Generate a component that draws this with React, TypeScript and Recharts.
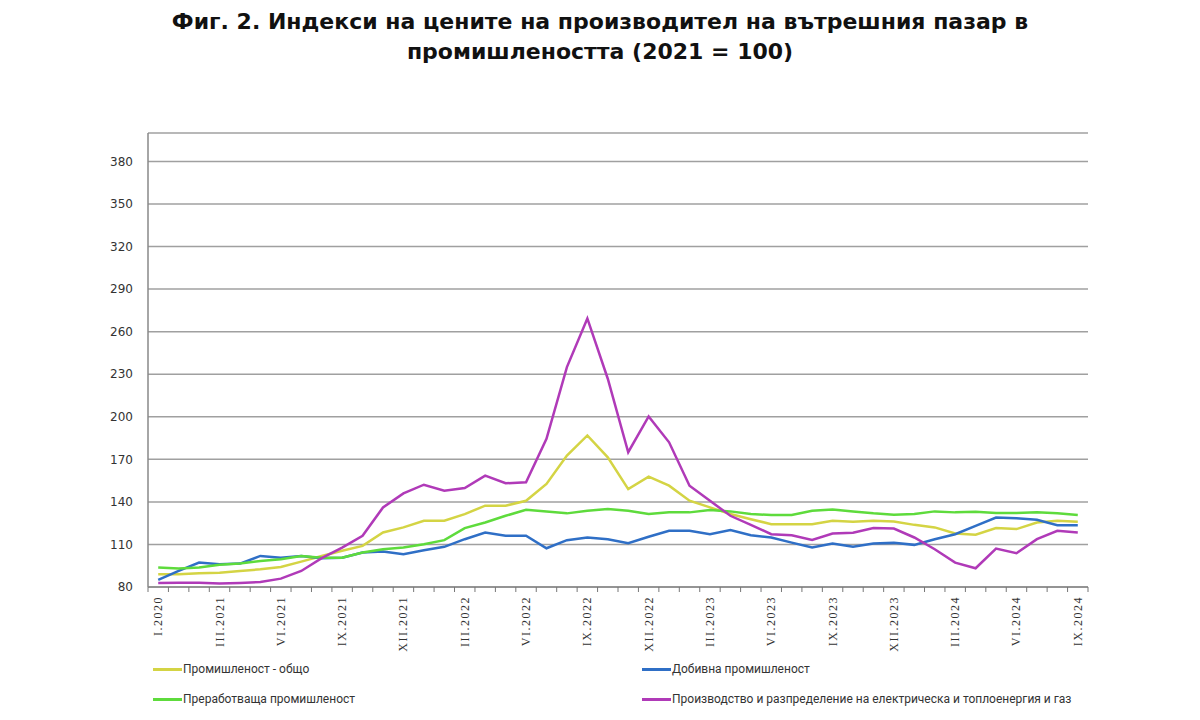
import { LineChart, Line, XAxis, YAxis, CartesianGrid } from 'recharts';

const months = [
  'I.2020',
  'I.2021', 'II.2021', 'III.2021', 'IV.2021', 'V.2021', 'VI.2021', 'VII.2021', 'VIII.2021', 'IX.2021', 'X.2021', 'XI.2021', 'XII.2021',
  'I.2022', 'II.2022', 'III.2022', 'IV.2022', 'V.2022', 'VI.2022', 'VII.2022', 'VIII.2022', 'IX.2022', 'X.2022', 'XI.2022', 'XII.2022',
  'I.2023', 'II.2023', 'III.2023', 'IV.2023', 'V.2023', 'VI.2023', 'VII.2023', 'VIII.2023', 'IX.2023', 'X.2023', 'XI.2023', 'XII.2023',
  'I.2024', 'II.2024', 'III.2024', 'IV.2024', 'V.2024', 'VI.2024', 'VII.2024', 'VIII.2024', 'IX.2024',
];

const industryTotal = [
  89, 89, 89.7, 90.1, 91.3, 92.5, 94.1, 97.9, 101.9, 105.5, 109, 118.4, 122, 126.7, 126.7, 131.4,
  137.3, 137.3, 140.8, 152.6, 172.6, 186.8, 171.4, 149, 157.8, 151.4, 140.8, 136.1, 131.4, 127.8,
  124.3, 124.3, 124.3, 126.7, 126, 126.7, 126.2, 123.8, 122, 117.7, 116.8, 121.5, 120.8, 125.5, 126.7, 126,
];
const mining = [
  85, 91.3, 97.2, 96, 96.5, 101.9, 100.7, 101.9, 100.3, 100.7, 104.3, 105, 103.1, 105.9, 108.3, 113.7,
  118.4, 116.1, 116.1, 107.3, 113, 114.9, 113.7, 110.9, 115.4, 119.6, 119.6, 117.2, 120.1, 116.5,
  114.9, 111.3, 107.8, 110.6, 108.3, 110.6, 111.1, 109.7, 113.7, 117.2, 123.1, 129, 128.5, 127.4, 123.6, 123.6,
];
const manufacturing = [
  93.7, 93, 93.7, 95.6, 96.5, 98.4, 99.6, 101.9, 100.7, 100.7, 104.3, 106.6, 107.8, 110.2, 113, 121.5,
  125.5, 130.2, 134.4, 133.3, 131.9, 133.7, 134.9, 133.7, 131.4, 132.6, 132.6, 134.2, 133.3, 131.4,
  130.7, 130.7, 133.7, 134.7, 133.3, 131.9, 130.9, 131.4, 133.3, 132.6, 133, 132.1, 132.1, 132.6, 131.9, 130.7,
];
const energy = [
  82.8, 83, 83, 82.4, 82.8, 83.5, 85.9, 91.3, 100.3, 107.8, 116.1, 136.1, 146, 152.1, 147.9, 149.8,
  158.5, 153.1, 153.8, 184.4, 235, 269.3, 226.8, 175, 200.2, 182, 151.4, 140.8, 130.2, 123.8,
  117.2, 116.5, 113.2, 117.7, 118.2, 121.5, 121.2, 114.9, 106.6, 97.2, 93.2, 107.1, 103.8, 113.7, 119.6, 118.4,
];

const yTicks = [80, 110, 140, 170, 200, 230, 260, 290, 320, 350, 380];

const series = [
  { key: 'total', name: 'Промишленост - общо', color: '#d4d444', values: industryTotal },
  { key: 'mining', name: 'Добивна промишленост', color: '#2f6fc6', values: mining },
  { key: 'manuf', name: 'Преработваща промишленост', color: '#5edb3c', values: manufacturing },
  { key: 'energy', name: 'Производство и разпределение на електрическа и топлоенергия и газ', color: '#b03ab8', values: energy },
];

const data = months.map((m, i) => {
  const row: Record<string, string | number> = { month: m };
  series.forEach(s => { row[s.key] = s.values[i]; });
  return row;
});

const PLOT_W = 940;
const step = PLOT_W / months.length;

function MonthTick(props: any) {
  const { x, y, payload, index } = props;
  const left = x - step / 2;
  const right = x + step / 2;
  return (
    <g>
      <line x1={left} x2={left} y1={y} y2={y + 5} stroke="#777" />
      {index === months.length - 1 && <line x1={right} x2={right} y1={y} y2={y + 5} stroke="#777" />}
      {index % 3 === 0 && (
        <text
          transform={`translate(${x + 4},${y + 9}) rotate(-90)`}
          textAnchor="end"
          fontSize={12}
          letterSpacing={1.5}
          fontFamily="'Liberation Serif', 'Times New Roman', serif"
          fill="#333"
        >
          {payload.value}
        </text>
      )}
    </g>
  );
}

export default function App() {
  return (
    <div style={{ position: 'absolute', left: 0, top: 0, width: 1200, height: 720, background: '#fff' }}>
      <div
        style={{
          position: 'absolute', left: 0, top: 7, width: 1200, textAlign: 'center',
          fontFamily: "'DejaVu Sans', Verdana, sans-serif", fontWeight: 'bold', fontSize: 22,
          lineHeight: '30px', color: '#111',
        }}
      >
        Фиг. 2. Индекси на цените на производител на вътрешния пазар в<br />
        промишлеността (2021 = 100)
      </div>
      <LineChart width={1200} height={720} data={data} margin={{ top: 133, right: 112, left: 0, bottom: 73 }}>
        <CartesianGrid vertical={false} stroke="#a0a0a0" strokeWidth={1.5} />
        <XAxis
          dataKey="month"
          interval={0}
          height={60}
          tickSize={0}
          tickMargin={0}
          padding={{ left: step / 2, right: step / 2 }}
          axisLine={{ stroke: '#888', strokeWidth: 1.5 }}
          tickLine={false}
          tick={<MonthTick />}
        />
        <YAxis
          width={148}
          domain={[80, 400]}
          ticks={yTicks}
          interval={0}
          axisLine={{ stroke: '#888', strokeWidth: 1.5 }}
          tickLine={false}
          tickMargin={9}
          tick={{ fill: '#333', fontSize: 12, fontFamily: "'DejaVu Sans', Verdana, sans-serif" }}
        />
        {series.map(s => (
          <Line
            key={s.key}
            type="linear"
            dataKey={s.key}
            name={s.name}
            stroke={s.color}
            strokeWidth={2.5}
            dot={false}
            isAnimationActive={false}
          />
        ))}
      </LineChart>
      <div
        style={{
          position: 'absolute', left: 153, top: 660, width: 1000,
          display: 'grid', gridTemplateColumns: '489px auto', rowGap: 12,
          fontFamily: "'Liberation Sans Narrow', 'Roboto', sans-serif", fontSize: 12, color: '#333',
        }}
      >
        {series.map(s => (
          <div key={s.key} style={{ display: 'flex', alignItems: 'center', height: 18 }}>
            <span style={{ display: 'inline-block', width: 29, height: 3, background: s.color, marginRight: 1 }} />
            <span>{s.name}</span>
          </div>
        ))}
      </div>
    </div>
  );
}
